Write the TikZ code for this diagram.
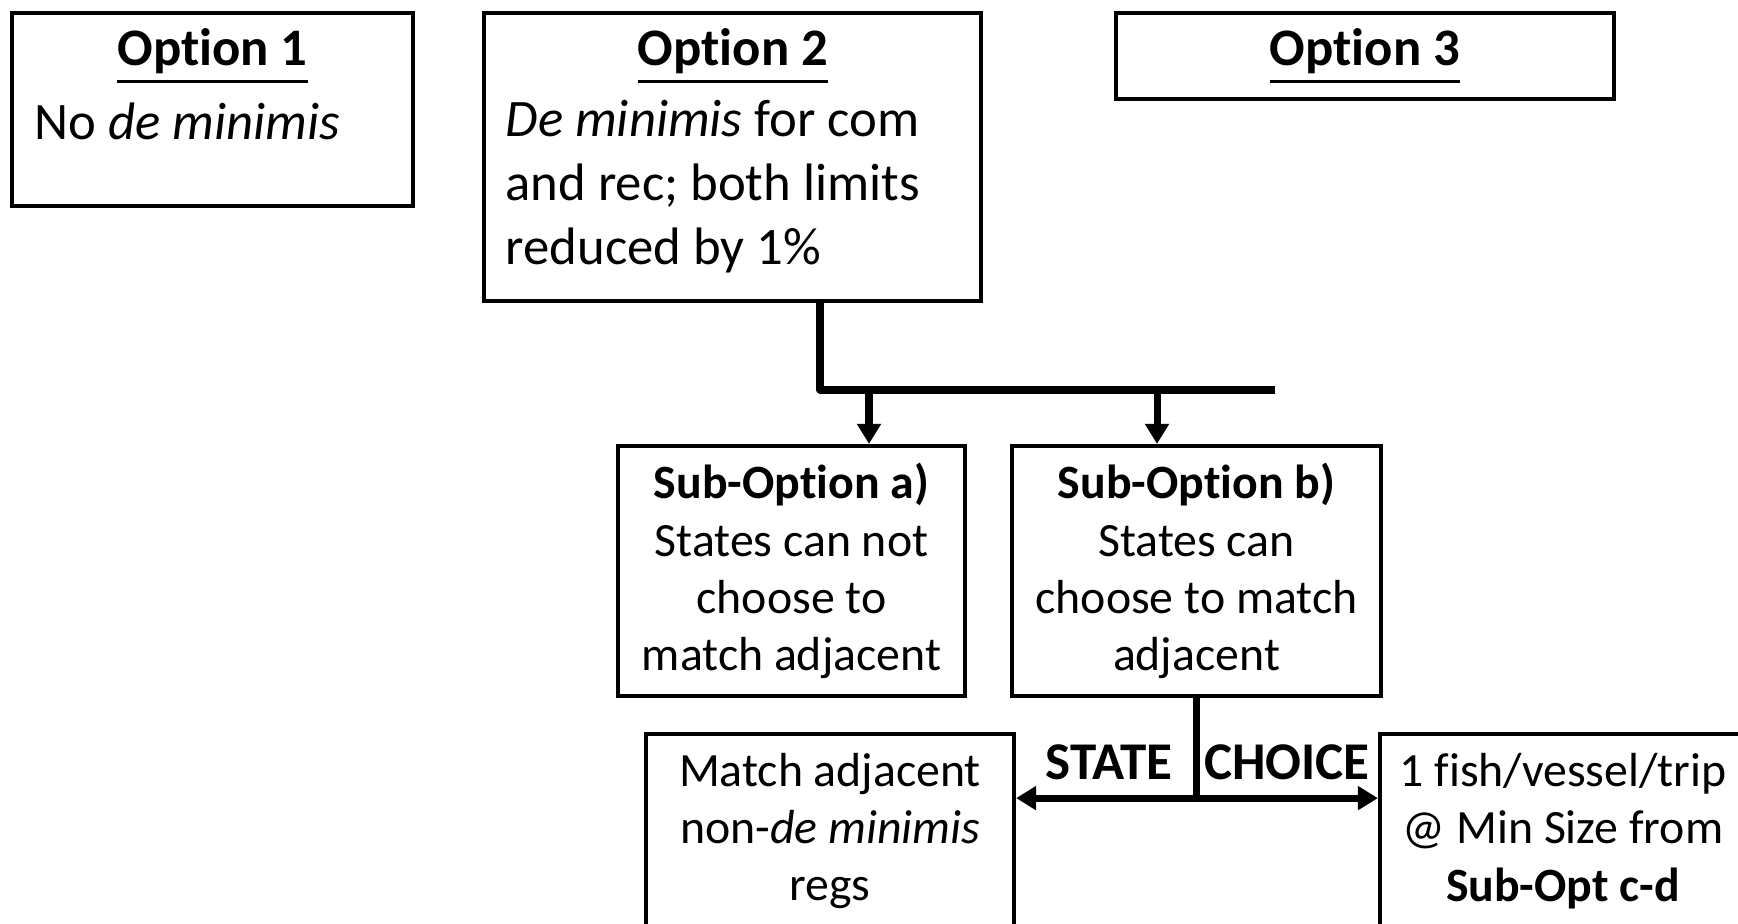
\documentclass[tikz,border=0pt]{standalone}
\usepackage{fontspec}
\setmainfont{Carlito}[Ligatures=NoCommon]
\usetikzlibrary{arrows.meta,positioning,calc}

\tikzset{
  box/.style={draw, line width=1.2pt, inner sep=0pt},
  big/.style={font=\fontsize{15}{18.2}\selectfont, inner sep=0pt},
  small/.style={font=\fontsize{13.6}{16.3}\selectfont, align=center},
  shout/.style={font=\fontsize{15.1}{18}\selectfont\bfseries, inner sep=0pt},
  link/.style={line width=2pt, line join=round},
}
\newcommand{\optname}[1]{\setbox0\hbox{\textbf{#1}}\rlap{\rule[-0.32em]{\wd0}{0.06em}}\box0}

\begin{document}
\begin{tikzpicture}[>={Triangle[width=0.23cm,length=0.2cm]}]
\clip (0,0) rectangle (17.38,-9.24);
% top row
\node[box, minimum width=4.01cm, minimum height=1.93cm] (opt1) at (2.125,-1.095) {};
\node[big, anchor=base] (opt1head) at (2.125,-0.66) {\optname{Option 1}};
\node[big, anchor=west] (opt1text) at (0.34,-1.21) {No \textit{de minimis}};
\node[box, minimum width=4.97cm, minimum height=2.88cm] (opt2) at (7.325,-1.57) {};
\node[big, anchor=base] (opt2head) at (7.33,-0.66) {\optname{Option 2}};
\node[big, anchor=west, align=left] (opt2text) at (5.05,-1.87)
  {\textit{De minimis} for com\\and rec; both limits\\reduced by 1\%};
\node[box, minimum width=4.98cm, minimum height=0.86cm] (opt3) at (13.65,-0.56) {};
\node[big, anchor=base] (opt3head) at (13.65,-0.66) {\optname{Option 3}};
% sub-options
\node[box, small, minimum width=3.47cm, minimum height=2.5cm] (suba) at (7.915,-5.71)
  {\textbf{Sub-Option a)}\\States can not\\choose to\\match adjacent};
\node[box, small, minimum width=3.69cm, minimum height=2.5cm] (subb) at (11.965,-5.71)
  {\textbf{Sub-Option b)}\\States can\\choose to match\\adjacent};
% state choice
\node[box, small, minimum width=3.68cm, minimum height=1.94cm] (match) at (8.30,-8.31)
  {Match adjacent\\non-\textit{de minimis}\\regs};
\node[box, small, minimum width=3.66cm, minimum height=1.94cm] (fish) at (15.63,-8.31)
  {1 fish/vessel/trip\\@ Min Size from\\\textbf{Sub-Opt c-d}};
\node[shout] (state) at (11.09,-7.62) {STATE};
\node[shout] (choice) at (12.87,-7.62) {CHOICE};
% connectors
\coordinate (bus) at (8.2,-3.9);
\coordinate (busend) at (12.75,-3.9);
\coordinate (tapa) at (8.69,-3.9);
\coordinate (tapb) at (11.57,-3.9);
\draw[link] (opt2.south -| bus) -- (bus) -- (busend);
\draw[link,->] (tapa) -- (tapa |- suba.north);
\draw[link,->] (tapb) -- (tapb |- subb.north);
\draw[link] (subb.south) -- ++(0,-1) coordinate (fork);
\draw[link,<->] (match.east |- fork) -- (fish.west |- fork);
\end{tikzpicture}
\end{document}
